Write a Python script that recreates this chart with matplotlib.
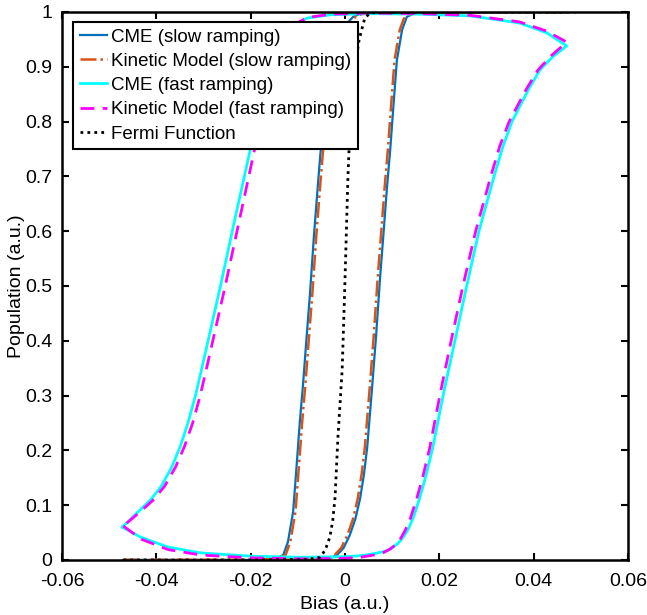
import matplotlib
matplotlib.use("Agg")
import matplotlib.pyplot as plt

plt.rcParams['font.family'] = ['Liberation Sans', 'DejaVu Sans']
plt.rcParams['axes.unicode_minus'] = False


# CME, slow ramping (bias up, then down)
cme_slow_x = [-0.047, -0.02, -0.006, -0.0030, -0.0017, -0.0003, 0.001, 0.0022, 0.0032, 0.0040,
              0.0047, 0.0057, 0.0066, 0.0074, 0.0082, 0.0089, 0.0096, 0.0102, 0.011, 0.0121,
              0.0131, 0.015, 0.02, 0.047,
              0.047, 0.02, 0.006, 0.0030, 0.0017, 0.0003, -0.001, -0.0022, -0.0032, -0.0040,
              -0.0047, -0.0057, -0.0066, -0.0074, -0.0082, -0.0089, -0.0096, -0.0102, -0.011,
              -0.0121, -0.0131, -0.015, -0.02, -0.047]
cme_slow_y = [0, 0, 0.001, 0.004, 0.009, 0.022, 0.045, 0.075, 0.112, 0.155,
              0.205, 0.31, 0.41, 0.511, 0.60, 0.68, 0.75, 0.821, 0.912, 0.967,
              0.991, 0.999, 1, 1,
              1, 1, 0.999, 0.996, 0.991, 0.978, 0.955, 0.925, 0.888, 0.845,
              0.795, 0.69, 0.59, 0.489, 0.40, 0.32, 0.25, 0.179, 0.088,
              0.033, 0.009, 0.001, 0, 0]

# Kinetic model, slow ramping
kin_slow_x = [-0.047, -0.02, -0.0065, -0.0035, -0.0022, -0.0008, 0.0005, 0.0017, 0.0027, 0.0035,
              0.0042, 0.0052, 0.0061, 0.0069, 0.0077, 0.0084, 0.0091, 0.0097, 0.0105, 0.0116,
              0.0126, 0.0145, 0.02, 0.047,
              0.047, 0.02, 0.0065, 0.0035, 0.0022, 0.0008, -0.0005, -0.0017, -0.0027, -0.0035,
              -0.0042, -0.0052, -0.0061, -0.0069, -0.0077, -0.0084, -0.0091, -0.0097, -0.0105,
              -0.0116, -0.0126, -0.0145, -0.02, -0.047]
kin_slow_y = cme_slow_y

# CME, fast ramping (closed loop starting at the left corner)
cme_fast_x = [-0.0472, -0.0434, -0.0377, -0.0307, -0.020, -0.0095, 0.0, 0.0035, 0.0065, 0.0085,
              0.0100, 0.0112, 0.0123, 0.0134, 0.0146, 0.0159, 0.0172, 0.0186, 0.0208, 0.0233,
              0.0258, 0.0284, 0.0316, 0.0335, 0.0354, 0.0390, 0.0413, 0.0440, 0.047,
              0.0428, 0.037, 0.0265, 0.016, 0.005, -0.003, -0.008, -0.011, -0.014, -0.0165,
              -0.0185, -0.0201, -0.0234, -0.0264, -0.0285, -0.0303, -0.0317, -0.0333, -0.0349,
              -0.0367, -0.0390, -0.0413, -0.0441, -0.0472]
cme_fast_y = [0.060, 0.042, 0.024, 0.013, 0.007, 0.005, 0.006, 0.008, 0.012, 0.016,
              0.022, 0.030, 0.041, 0.056, 0.080, 0.115, 0.155, 0.205, 0.300, 0.400,
              0.500, 0.600, 0.700, 0.755, 0.800, 0.860, 0.894, 0.918, 0.938,
              0.962, 0.980, 0.993, 0.996, 0.997, 0.995, 0.989, 0.975, 0.940, 0.880,
              0.810, 0.748, 0.620, 0.500, 0.420, 0.352, 0.300, 0.250, 0.208,
              0.170, 0.134, 0.109, 0.086, 0.060]

# Kinetic model, fast ramping
kin_fast_x = [-0.0470, -0.0432, -0.0375, -0.0305, -0.020, -0.0095, 0.0, 0.0033, 0.0061, 0.0080,
              0.0094, 0.0106, 0.0117, 0.0127, 0.0139, 0.0152, 0.0165, 0.0179, 0.0201, 0.0225,
              0.0250, 0.0277, 0.0309, 0.0328, 0.0348, 0.0385, 0.0409, 0.0437, 0.047,
              0.0428, 0.037, 0.0265, 0.016, 0.005, -0.003, -0.008, -0.011, -0.014, -0.0160,
              -0.0178, -0.0192, -0.0224, -0.0254, -0.0275, -0.0293, -0.0307, -0.0323, -0.0340,
              -0.0359, -0.0383, -0.0407, -0.0437, -0.0470]
kin_fast_y = [0.062, 0.038, 0.019, 0.009, 0.004, 0.002, 0.003, 0.005, 0.009, 0.013,
              0.019, 0.027, 0.038, 0.053, 0.077, 0.112, 0.152, 0.202, 0.300, 0.400,
              0.500, 0.600, 0.700, 0.755, 0.800, 0.860, 0.894, 0.920, 0.945,
              0.965, 0.982, 0.994, 0.997, 0.998, 0.996, 0.990, 0.976, 0.940, 0.880,
              0.810, 0.748, 0.620, 0.500, 0.420, 0.352, 0.300, 0.250, 0.208,
              0.170, 0.134, 0.109, 0.086, 0.062]

# Fermi function
fermi_x = [-0.047, -0.02, -0.008, -0.0053, -0.0042, -0.0032, -0.0026, -0.0021, -0.0015, -0.0006,
           0.0, 0.0006, 0.0010, 0.0018, 0.0030, 0.0042, 0.0053, 0.008, 0.02, 0.049]
fermi_y = [0, 0, 0.001, 0.005, 0.018, 0.042, 0.072, 0.115, 0.224, 0.347,
           0.511, 0.693, 0.78, 0.88, 0.95, 0.989, 0.998, 1, 1, 1]

x_ticks = [-0.06, -0.04, -0.02, 0, 0.02, 0.04, 0.06]
x_tick_labels = ['-0.06', '-0.04', '-0.02', '0', '0.02', '0.04', '0.06']
y_ticks = [0, 0.1, 0.2, 0.3, 0.4, 0.5, 0.6, 0.7, 0.8, 0.9, 1]
y_tick_labels = ['0', '0.1', '0.2', '0.3', '0.4', '0.5', '0.6', '0.7', '0.8', '0.9', '1']


fgr = plt.figure(figsize=(6.47, 6.15), dpi=100)
ax = fgr.add_axes([62 / 647, 1 - 560 / 615, 566 / 647, 548 / 615])

ax.plot(cme_slow_x, cme_slow_y, color='#0072BD', linestyle='-', linewidth=1.6,
        label='CME (slow ramping)')
ax.plot(kin_slow_x, kin_slow_y, color='#D95319', linestyle='-.', linewidth=1.8,
        label='Kinetic Model (slow ramping)')
ax.plot(cme_fast_x, cme_fast_y, color='#00FFFF', linestyle='-', linewidth=2.0,
        label='CME (fast ramping)')
ax.plot(kin_fast_x, kin_fast_y, color='#FF00FF', linestyle=(0, (5, 3)), linewidth=2.0,
        label='Kinetic Model (fast ramping)')
ax.plot(fermi_x, fermi_y, color='black', linestyle=(0, (1, 1.5)), linewidth=2.0,
        label='Fermi Function')

ax.set_xlim(-0.06, 0.06)
ax.set_ylim(0, 1)
ax.set_xticks(x_ticks)
ax.set_xticklabels(x_tick_labels)
ax.set_yticks(y_ticks)
ax.set_yticklabels(y_tick_labels)
ax.tick_params(direction='in', length=5, width=1.5, top=True, right=True, labelsize=14)
ax.tick_params(axis='x', pad=9)
ax.tick_params(axis='y', pad=7)
for sp in ax.spines.values():
	sp.set_linewidth(1.8)

ax.set_xlabel('Bias (a.u.)', fontsize=14, labelpad=5)
ax.set_ylabel('Population (a.u.)', fontsize=14, labelpad=0)

leg = ax.legend(loc='upper left', bbox_to_anchor=(0.0194, 0.982), fontsize=13.5,
                frameon=True, fancybox=False, framealpha=1, edgecolor='black',
                borderpad=0.35, labelspacing=0.38, handlelength=1.45,
                handletextpad=0.25, borderaxespad=0)
leg.get_frame().set_linewidth(1.5)

fgr.savefig('out.png', dpi=100)
